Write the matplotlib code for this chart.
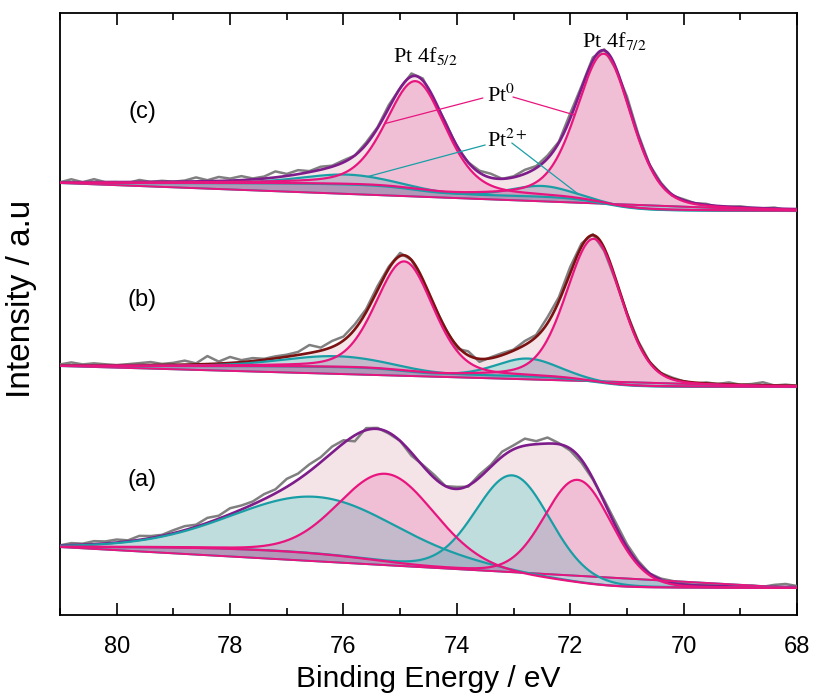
import numpy as np
import matplotlib
matplotlib.use("Agg")
import matplotlib.pyplot as plt
from matplotlib.ticker import MultipleLocator

plt.rcParams["font.family"] = ["Liberation Sans", "DejaVu Sans"]
plt.rcParams["mathtext.fontset"] = "stix"

# fit grid (binding energy, eV); raw scan points every 0.2 eV (every 20th point)
e_fit = np.linspace(81.0, 68.0, 1301)

# background end points (intensity at 81 eV, at 68 eV), spectra are stacked
bg_a = [68, 27]
bg_b = [249, 228]
bg_c = [432, 404]

# Pt0 doublet (4f5/2, 4f7/2): centre eV, height, FWHM eV
pt0_center_a = [75.23, 71.86]
pt0_height_a = [88, 103]
pt0_fwhm_a = [2.0, 1.4]
pt0_center_b = [74.92, 71.58]
pt0_height_b = [110, 143]
pt0_fwhm_b = [1.2, 1.15]
pt0_center_c = [74.72, 71.40]
pt0_height_c = [109, 150]
pt0_fwhm_c = [1.25, 1.15]

# Pt2+ doublet (4f5/2, 4f7/2)
pt2_center_a = [76.45, 73.01]
pt2_height_a = [57, 99]
pt2_fwhm_a = [3.5, 1.55]
pt2_center_b = [76.15, 72.75]
pt2_height_b = [11, 18]
pt2_fwhm_b = [2.2, 1.3]
pt2_center_c = [75.95, 72.5]
pt2_height_c = [10, 11]
pt2_fwhm_c = [1.9, 1.3]

# Lorentzian fraction of the line shapes
eta_a, eta_b, eta_c = 0.1, 0.25, 0.35

# raw data minus fit envelope, 81 -> 68 eV in 0.2 eV steps
resid_a = [0, 2, 1, 3, 2, 3, 1, 4, 2, 1, 3, 4, 2, 5, 3, 6, 4, 3, 5, 4,
           8, 6, 7, 5, 6, 3, -6, 2, 1, -1, 0, -3, 1, 3, 0, 2, -1, 3, 2, 5,
           4, 7, 3, 6, 1, -2, -3, -1, 2, 4, 3, 2, 0, 1, 2, 1, 0, 2, 0, 1,
           0, 1, 0, 2, 3, 1]
resid_b = [1, 3, 1, 2, 1, 0, 1, 2, 3, 1, 2, 4, 1, 8, 2, 6, 2, 3, 1, 2,
           2, 3, 8, 3, 6, 4, 5, 3, 4, 2, 3, 0, -2, -1, 0, -3, 4, -3, 1, 2,
           1, 4, 2, 6, 4, 6, 3, 1, -3, -2, 0, 1, 0, 0, 1, 0, -1, 1, 0, 2,
           0, 1, 3, 0, 1, 0]
resid_c = [0, 3, 0, 3, 0, 0, -1, 2, 0, 1, 0, 1, 4, 1, 4, 2, 4, 1, 2, 6,
           2, 4, 1, 3, 1, 2, 0, 2, 1, 3, 0, 3, 2, -2, 1, -1, 0, 2, 4, 0,
           1, 4, 2, 3, 1, 5, 2, 3, 1, -2, 4, 2, 0, 1, -1, 1, 0, 1, -1, 0,
           1, 0, 0, 1, -1, 0]

PINK = "#e8157f"
TEAL = "#1a9ea6"
ENV_FILL = "#f4e4e8"


def pseudo_voigt(e, center, height, fwhm, eta):
    x = 2 * (e - center) / fwhm
    return height * (eta / (1 + x**2) + (1 - eta) * np.exp(-np.log(2) * x**2))


def shirley(signal, left, right):
    area = np.concatenate([[0], np.cumsum((signal[1:] + signal[:-1]) / 2)])
    frac = (area[-1] - area) / area[-1]
    return right + (left - right) * frac


def draw_spectrum(ax, bg, c0, h0, w0, c2, h2, w2, eta, resid, env_color):
    pt0 = [pseudo_voigt(e_fit, c, h, w, eta) for c, h, w in zip(c0, h0, w0)]
    pt2 = [pseudo_voigt(e_fit, c, h, w, eta) for c, h, w in zip(c2, h2, w2)]
    total = sum(pt0) + sum(pt2)
    shir = shirley(total, bg[0], bg[1])
    lin = np.linspace(bg[0], bg[1], e_fit.size)
    env = shir + total

    ax.fill_between(e_fit, lin, env, color=ENV_FILL, lw=0, zorder=1)
    for comp in pt2:
        ax.fill_between(e_fit, lin, shir + comp, color="#24c9bd", alpha=0.25, lw=0, zorder=2)
    for comp in pt0:
        ax.fill_between(e_fit, lin, shir + comp, color="#e02c8a", alpha=0.2, lw=0, zorder=2)

    raw = env[::20] + np.array(resid)
    ax.plot(e_fit[::20], raw, color="#808080", lw=1.8, zorder=3)
    ax.plot(e_fit, env, color=env_color, lw=1.9, zorder=4)
    ax.plot(e_fit, lin, color=TEAL, lw=1.4, zorder=4)
    ax.plot(e_fit, lin, color=PINK, lw=1.4, zorder=4)
    for comp in pt2:
        ax.plot(e_fit, shir + comp, color=TEAL, lw=1.6, zorder=5)
    for comp in pt0:
        ax.plot(e_fit, shir + comp, color=PINK, lw=1.6, zorder=5)
    return [shir + comp for comp in pt0], [shir + comp for comp in pt2]


def curve_at(curve, e):
    return np.interp(e, e_fit[::-1], curve[::-1])


fig = plt.figure(figsize=(8.15, 6.95), dpi=100)
ax = fig.add_axes([0.0736, 0.1151, 0.9043, 0.8662])

draw_spectrum(ax, bg_a, pt0_center_a, pt0_height_a, pt0_fwhm_a,
              pt2_center_a, pt2_height_a, pt2_fwhm_a, eta_a, resid_a, "#7d1c8a")
draw_spectrum(ax, bg_b, pt0_center_b, pt0_height_b, pt0_fwhm_b,
              pt2_center_b, pt2_height_b, pt2_fwhm_b, eta_b, resid_b, "#7b1111")
lines0, lines2 = draw_spectrum(ax, bg_c, pt0_center_c, pt0_height_c, pt0_fwhm_c,
                               pt2_center_c, pt2_height_c, pt2_fwhm_c, eta_c, resid_c, "#7d1c8a")

# peak labels on (c)
serif = ["Liberation Serif", "DejaVu Serif"]
ax.text(75.13, 553, "Pt 4f$_{5/2}$", family=serif, fontsize=16, zorder=6)
ax.text(71.79, 568, "Pt 4f$_{7/2}$", family=serif, fontsize=16, zorder=6)
ax.text(73.47, 513, "Pt$^{0}$", family=serif, fontsize=16, zorder=6)
ax.text(73.47, 468, "Pt$^{2+}$", family=serif, fontsize=16, zorder=6)

leaders = [
    ((73.54, 517), 75.27, lines0[0], PINK),
    ((73.01, 518), 71.92, lines0[1], PINK),
    ((73.50, 470), 75.57, lines2[0], TEAL),
    ((73.03, 472), 71.86, lines2[1], TEAL),
]
for start, e_end, curve, col in leaders:
    ax.annotate("", xy=(e_end, curve_at(curve, e_end)), xytext=start,
                arrowprops=dict(arrowstyle="-", color=col, lw=0.9,
                                shrinkA=0, shrinkB=0), zorder=6)

for label, y in [("(a)", 135), ("(b)", 315), ("(c)", 503)]:
    ax.text(79.55, y, label, fontsize=17, ha="center", va="center")

ax.set_xlim(81, 68)
ax.set_ylim(0, 602)
ax.set_xticks(np.arange(80, 67, -2))
ax.xaxis.set_minor_locator(MultipleLocator(1))
ax.set_yticks([])
ax.tick_params(axis="x", which="both", direction="in", top=True, bottom=True,
               labelsize=17, pad=15, width=1.2)
ax.tick_params(axis="x", which="major", length=8.5)
ax.tick_params(axis="x", which="minor", length=5)
for sp in ax.spines.values():
    sp.set_linewidth(1.3)

fig.text(428.5 / 815, 1 - 679 / 695, "Binding Energy / eV", fontsize=21.5,
         ha="center", va="center")
fig.text(22 / 815, 1 - 299 / 695, "Intensity / a.u", fontsize=24,
         rotation=90, ha="center", va="center")

fig.savefig("out.png", dpi=100)
